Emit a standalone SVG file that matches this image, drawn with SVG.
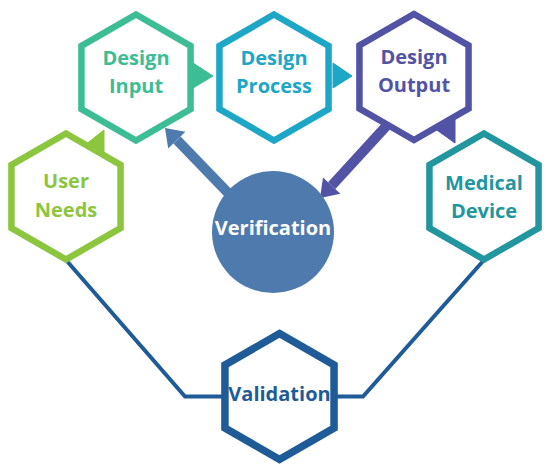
<svg xmlns="http://www.w3.org/2000/svg" xmlns:xlink="http://www.w3.org/1999/xlink" width="550" height="472" viewBox="0 0 550 472">
<style>
.hex{fill:#fff;stroke-width:6.5;stroke-linejoin:miter}
.lbl{font-family:"Open Sans","Liberation Sans",sans-serif;font-weight:700;font-size:20px;text-anchor:middle}
.un{stroke:#8cc63f;fill:#8cc63f}
.di{stroke:#3dbd95;fill:#3dbd95}
.dp{stroke:#1ea6c6;fill:#1ea6c6}
.do{stroke:#5353a6;fill:#5353a6}
.md{stroke:#22969f;fill:#22969f}
.va{stroke:#1f5c97;fill:#1f5c97}
text.un,text.di,text.dp,text.do,text.md,text.va{stroke:none}
</style>
<defs>
<path id="hexp" d="M0,-63 L54.56,-31.5 L54.56,31.5 L0,63 L-54.56,31.5 L-54.56,-31.5 Z"/>
</defs>
<rect width="550" height="472" fill="#fff"/>
<g id="connectors">
<polyline points="66,260 185,396.5 222,396.5" fill="none" stroke="#1f5c97" stroke-width="4"/>
<polyline points="337,396.5 363,396.5 484,260" fill="none" stroke="#1f5c97" stroke-width="4"/>
<line x1="232" y1="197" x2="177" y2="140" stroke="#4f7aad" stroke-width="10"/>
<polygon points="165,128 185.4,131.8 168.2,148.6" fill="#4f7aad"/>
<line x1="390" y1="122" x2="331.7" y2="185.6" stroke="#5353a6" stroke-width="10"/>
<polygon points="320,198 340.4,193.8 323,177.4" fill="#5353a6"/>
</g>
<g id="user-needs">
<use xlink:href="#hexp" href="#hexp" class="hex un" style="fill:#fff" transform="translate(66,196.5)"/>
<polygon class="un" points="85,145 104,130 104,155"/>
<text class="lbl un" x="66" y="188">User</text>
<text class="lbl un" x="66" y="217">Needs</text>
</g>
<g id="design-input">
<use xlink:href="#hexp" href="#hexp" class="hex di" style="fill:#fff" transform="translate(136,77.5)"/>
<polygon class="di" points="193,63 213,76 193,88"/>
<text class="lbl di" x="136" y="65">Design</text>
<text class="lbl di" x="136" y="93">Input</text>
</g>
<g id="design-process">
<use xlink:href="#hexp" href="#hexp" class="hex dp" style="fill:#fff" transform="translate(274,77.5)"/>
<polygon class="dp" points="333,63 352,76 333,88"/>
<text class="lbl dp" x="274" y="65">Design</text>
<text class="lbl dp" x="274" y="93">Process</text>
</g>
<g id="design-output">
<use xlink:href="#hexp" href="#hexp" class="hex do" style="fill:#fff" transform="translate(414,77)"/>
<polygon class="do" points="434,128 455,116 455,143"/>
<text class="lbl do" x="414" y="64">Design</text>
<text class="lbl do" x="414" y="92">Output</text>
</g>
<g id="medical-device">
<use xlink:href="#hexp" href="#hexp" class="hex md" style="fill:#fff" transform="translate(484,196.5)"/>
<text class="lbl md" x="484" y="190">Medical</text>
<text class="lbl md" x="484" y="218">Device</text>
</g>
<g id="verification">
<circle cx="273" cy="232" r="61" fill="#4f7aad"/>
<text class="lbl" fill="#fff" x="273" y="235">Verification</text>
</g>
<g id="validation">
<use xlink:href="#hexp" href="#hexp" class="hex va" style="fill:#fff;stroke-width:7.5" transform="translate(279.5,396.5)"/>
<text class="lbl va" x="279.5" y="401">Validation</text>
</g>
</svg>
